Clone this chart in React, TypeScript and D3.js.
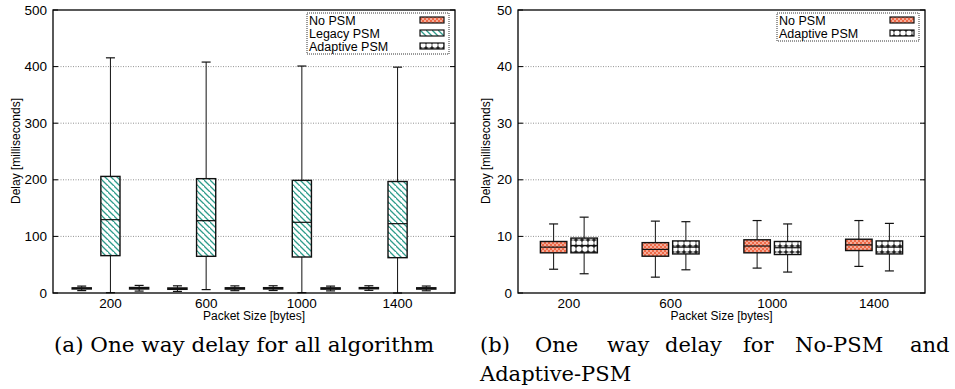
import React from "react";
import * as d3 from "d3";

// packet sizes on the x axis
const packetSizes = ["200", "600", "1000", "1400"];

// box stats per packet size: [min, q1, median, q3, max] in ms
const noPsm = [
  [4.2, 7.1, 8.1, 9.1, 12.2],
  [2.8, 6.5, 7.7, 8.9, 12.7],
  [4.4, 7.1, 8.3, 9.4, 12.8],
  [4.7, 7.5, 8.5, 9.5, 12.8],
];
const legacyPsm = [
  [0.5, 66, 129.6, 206, 415.5],
  [6, 64.8, 127.8, 202, 408],
  [0.5, 63.6, 124.9, 199, 401],
  [0, 62.4, 122.5, 197, 399],
];
const adaptivePsm = [
  [3.4, 7.1, 8.4, 9.7, 13.4],
  [4.1, 6.9, 8.1, 9.2, 12.6],
  [3.7, 6.8, 8.0, 9.1, 12.2],
  [3.9, 6.9, 8.1, 9.2, 12.3],
];

const leftTicks = [0, 100, 200, 300, 400, 500];
const rightTicks = [0, 10, 20, 30, 40, 50];

const sans = "'Liberation Sans', Arial, sans-serif";
const serif = "'DejaVu Serif', serif";

type Series = { name: string; data: number[][]; fill: string };

function Panel({ x0, x1, xDomain, yMax, ticks, series, offsets, boxW, legend, titleX }: any) {
  const x = d3.scaleLinear().domain(xDomain).range([x0, x1]);
  const y = d3.scaleLinear().domain([0, yMax]).range([293, 10]);
  const unit = x(1) - x(0);
  const capW = 9;
  const legendX0 = x1 - 148;
  const legendX1 = x1 - 6;
  return (
    <g>
      {/* grid */}
      {ticks.slice(1, -1).map((t: number) => (
        <line key={"g" + t} x1={x0} x2={x1} y1={y(t)} y2={y(t)} stroke="#777" strokeWidth={0.8} strokeDasharray="1,1.5" />
      ))}
      {ticks.map((t: number) => (
        <g key={"t" + t}>
          <line x1={x0} x2={x0 + 5} y1={y(t)} y2={y(t)} stroke="#000" />
          <line x1={x1} x2={x1 - 5} y1={y(t)} y2={y(t)} stroke="#000" />
          <text x={x0 - 6} y={y(t) + 4.5} textAnchor="end" fontFamily={sans} fontSize={13.5}>{t}</text>
        </g>
      ))}
      {packetSizes.map((p, i) => (
        <text key={p} x={x(i)} y={308} textAnchor="middle" fontFamily={sans} fontSize={13.5}>{p}</text>
      ))}
      <text x={(x0 + x1) / 2} y={320} textAnchor="middle" fontFamily={sans} fontSize={12}>Packet Size [bytes]</text>
      <text transform={`translate(${titleX},151) rotate(-90)`} textAnchor="middle" dominantBaseline="middle" fontFamily={sans} fontSize={12}>Delay [milliseconds]</text>
      {/* boxes */}
      {series.map((s: Series, si: number) =>
        s.data.map((d, i) => {
          const cx = x(i + offsets[si]);
          const w = boxW * unit;
          const [mn, q1, md, q3, mx] = d;
          return (
            <g key={s.name + i}>
              <line x1={cx} x2={cx} y1={y(mx)} y2={y(q3)} stroke="#111" strokeWidth={1} />
              <line x1={cx} x2={cx} y1={y(q1)} y2={y(mn)} stroke="#111" strokeWidth={1} />
              <line x1={cx - capW / 2} x2={cx + capW / 2} y1={y(mx)} y2={y(mx)} stroke="#111" strokeWidth={1.2} />
              <line x1={cx - capW / 2} x2={cx + capW / 2} y1={y(mn)} y2={y(mn)} stroke="#111" strokeWidth={1.2} />
              <rect x={cx - w / 2} y={y(q3)} width={w} height={Math.max(0, y(q1) - y(q3))} fill={s.fill} stroke="#111" strokeWidth={1.4} />
              <line x1={cx - w / 2} x2={cx + w / 2} y1={y(md)} y2={y(md)} stroke="#111" strokeWidth={1.2} />
            </g>
          );
        })
      )}
      {/* frame */}
      <rect x={x0} y={10} width={x1 - x0} height={283} fill="none" stroke="#000" strokeWidth={1.3} />
      {/* legend */}
      <rect x={legendX0} y={13} width={legendX1 - legendX0} height={legend.length * 13 + 2} fill="#fff" stroke="#000" strokeWidth={0.8} strokeDasharray="1,1" />
      {legend.map((s: Series, i: number) => (
        <g key={"l" + s.name}>
          <text x={legendX0 + 2} y={24.5 + i * 13} fontFamily={sans} fontSize={12.5}>{s.name}</text>
          <rect x={legendX1 - 29} y={17 + i * 13} width={24} height={6} fill={s.fill} stroke="#111" strokeWidth={1.2} />
        </g>
      ))}
    </g>
  );
}

export default function App() {
  const sNo: Series = { name: "No PSM", data: noPsm, fill: "url(#pNo)" };
  const sLeg: Series = { name: "Legacy PSM", data: legacyPsm, fill: "url(#pLeg)" };
  const sAd: Series = { name: "Adaptive PSM", data: adaptivePsm, fill: "url(#pAd)" };
  const line1 = [
    ["(b)", 480], ["One", 535], ["way", 607], ["delay", 665], ["for", 743], ["No-PSM", 795], ["and", 910],
  ];
  return (
    <svg width={955} height={389} style={{ position: "absolute", left: 0, top: 0, background: "#fff" }}>
      <defs>
        <pattern id="pNo" width={4} height={4} patternUnits="userSpaceOnUse">
          <rect width={4} height={4} fill="#ef6a48" />
          <circle cx={1} cy={1} r={0.8} fill="#fff" />
          <circle cx={3} cy={3} r={0.8} fill="#fff" />
        </pattern>
        <pattern id="pLeg" width={6} height={6} patternUnits="userSpaceOnUse">
          <rect width={6} height={6} fill="#fff" />
          <path d="M-1,-1 L7,7 M-4,2 L2,8 M4,-4 L10,2" stroke="#2f9c8c" strokeWidth={1.3} />
        </pattern>
        <pattern id="pAd" width={6} height={6} patternUnits="userSpaceOnUse">
          <rect width={6} height={6} fill="#222" />
          <circle cx={3} cy={3} r={2.7} fill="#fff" />
        </pattern>
      </defs>
      <Panel x0={53} x1={455} xDomain={[-0.6, 3.6]} yMax={500} ticks={leftTicks}
        series={[sNo, sLeg, sAd]} offsets={[-0.3, 0, 0.3]} boxW={0.2} legend={[sNo, sLeg, sAd]} titleX={17} />
      <Panel x0={518} x1={925} xDomain={[-0.5, 3.5]} yMax={50} ticks={rightTicks}
        series={[sNo, sAd]} offsets={[-0.15, 0.15]} boxW={0.26} legend={[sNo, sAd]} titleX={487} />
      <text x={54} y={352} textLength={380} lengthAdjust="spacingAndGlyphs" fontFamily={serif} fontSize={21}>(a) One way delay for all algorithm</text>
      {line1.map(([w, px]) => (
        <text key={w as string} x={px as number} y={352} fontFamily={serif} fontSize={21}>{w}</text>
      ))}
      <text x={480} y={381} fontFamily={serif} fontSize={21}>Adaptive-PSM</text>
    </svg>
  );
}
